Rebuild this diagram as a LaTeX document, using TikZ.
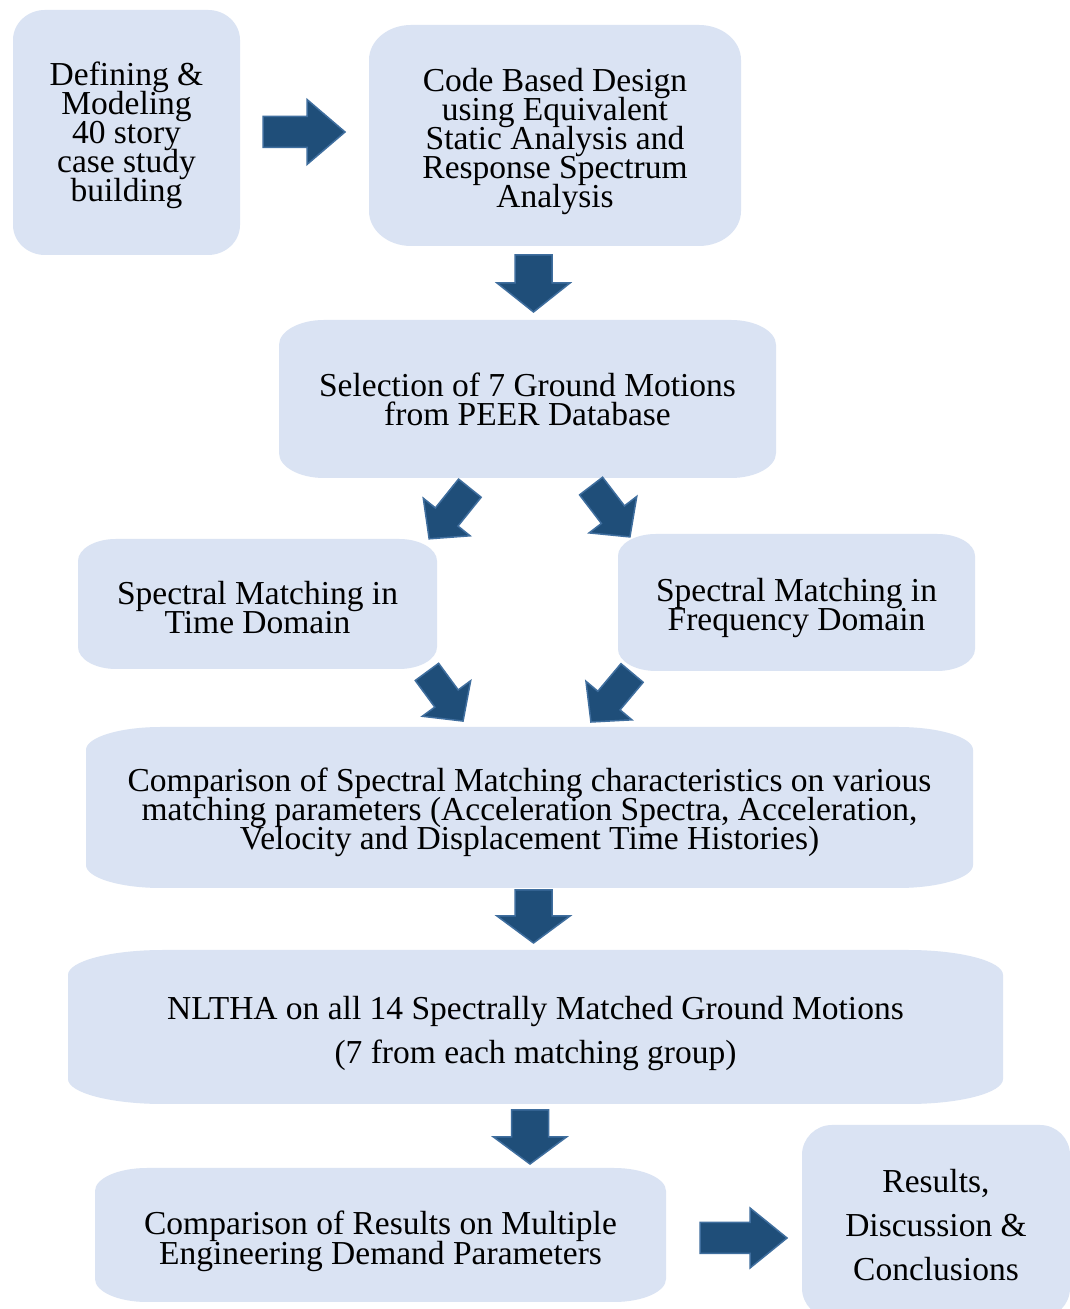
\documentclass[tikz,border=0pt]{standalone}
\usepackage{fontspec}
\setmainfont{Liberation Serif}
\definecolor{boxfill}{HTML}{DAE3F3}
\definecolor{arrfill}{HTML}{1F4E79}
\definecolor{arredge}{HTML}{3F6E9E}
\newcommand\tightlines{\lineskiplimit=-100pt\relax}
\tikzset{
  boxtext/.style={align=center, inner sep=0pt, text=black, font=\fontsize{33.5}{29}\selectfont\tightlines},
  widespace/.style={font=\fontsize{33.5}{44}\selectfont\tightlines},
  blockarrow/.style={fill=arrfill, draw=arredge, line width=1.5pt, line join=miter}
}
% #1 node options, #2 name, #3 left, #4 top(px), #5 right, #6 bottom(px), #7 rx, #8 ry, #9 text
\newcommand\ebox[9][]{%
  \fill[boxfill] ({#3+#7},{1309-#4}) -- ({#5-#7},{1309-#4})
    arc[start angle=90, end angle=0, x radius=#7, y radius=#8]
    -- (#5,{1309-#6+#8})
    arc[start angle=0, end angle=-90, x radius=#7, y radius=#8]
    -- ({#3+#7},{1309-#6})
    arc[start angle=270, end angle=180, x radius=#7, y radius=#8]
    -- (#3,{1309-#4-#8})
    arc[start angle=180, end angle=90, x radius=#7, y radius=#8] -- cycle;
  \node[boxtext,#1] (#2) at ({(#3+#5)/2},{1309-(#4+#6)/2}) {#9};
}
% #1 x, #2 y(px), #3 angle, #4 length, #5 body half, #6 head half, #7 head length
\newcommand\barrow[7]{%
  \filldraw[blockarrow, shift={(#1,{1309-#2})}, rotate=#3]
    ({-#4/2},{-#5}) -- ({#4/2-#7},{-#5}) -- ({#4/2-#7},{-#6}) -- ({#4/2},0)
    -- ({#4/2-#7},{#6}) -- ({#4/2-#7},{#5}) -- ({-#4/2},{#5}) -- cycle;
}
\begin{document}
\begin{tikzpicture}[x=1pt,y=1pt]
\useasboundingbox (0,0) rectangle (1070,1309);
\clip (0,0) rectangle (1070,1309);
\fill[white] (0,0) rectangle (1070,1309);

\ebox[yshift=-3pt]{def}{13}{10}{240}{255}{32}{30}{Defining \&\\Modeling\\40 story\\case study\\building}
\ebox[yshift=-6pt]{code}{369}{25}{741}{246}{42}{35}{Code Based Design\\using Equivalent\\Static Analysis and\\Response Spectrum\\Analysis}
\ebox[yshift=0pt]{sel}{279}{320}{776}{478}{45}{25}{Selection of 7 Ground Motions\\from PEER Database}
\ebox[yshift=-4pt]{time}{78}{539}{437}{669}{38}{22}{Spectral Matching in\\Time Domain}
\ebox[yshift=-6pt]{freq}{618}{534}{975}{671}{38}{22}{Spectral Matching in\\Frequency Domain}
\ebox[yshift=-5pt]{comp}{86}{727}{973}{888}{75}{23}{Comparison of Spectral Matching characteristics on various\\matching parameters (Acceleration Spectra, Acceleration,\\Velocity and Displacement Time Histories)}
\ebox[widespace,yshift=-6pt]{nltha}{68}{950}{1003}{1104}{95}{25}{NLTHA on all 14 Spectrally Matched Ground Motions\\(7 from each matching group)}
\ebox[yshift=-6pt,font=\fontsize{33.5}{30}\selectfont\tightlines]{compres}{95}{1168}{666}{1302}{52}{23}{Comparison of Results on Multiple\\Engineering Demand Parameters}
\ebox[widespace,yshift=-4pt]{results}{802}{1125}{1070}{1318}{30}{30}{Results,\\Discussion \&\\Conclusions}

\barrow{304}{132}{0}{82}{15.5}{32.5}{38}
\barrow{533.5}{283.5}{-90}{57}{18.5}{36.5}{29}
\barrow{449.5}{513.5}{-128.8}{65}{14.5}{30}{28}
\barrow{610.5}{511.5}{-52.6}{64}{14.5}{30}{28}
\barrow{445}{696.5}{-53.7}{61}{14.5}{30}{28}
\barrow{611.5}{697.5}{-130}{64}{14.5}{30}{28}
\barrow{533.5}{916.5}{-90}{53}{18.5}{36.5}{27}
\barrow{530}{1137}{-90}{54}{18.5}{36.5}{27}
\barrow{743.5}{1238}{0}{87}{15.5}{30}{37}
\end{tikzpicture}
\end{document}
